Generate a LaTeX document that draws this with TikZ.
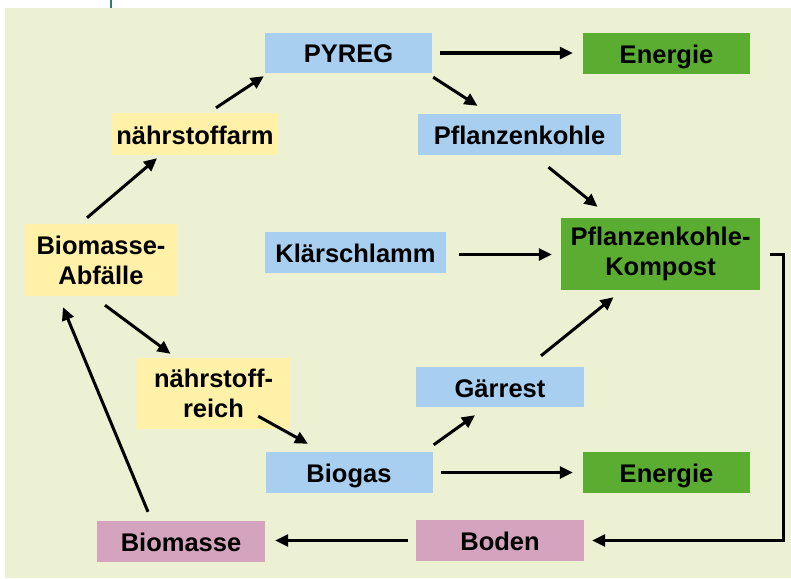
\documentclass[tikz,border=0pt]{standalone}
\usepackage{fontspec}
\setmainfont{Liberation Sans}
\usetikzlibrary{arrows.meta}
\definecolor{bgc}{HTML}{ECF1D3}
\definecolor{bluec}{HTML}{A9CFF0}
\definecolor{greenc}{HTML}{5BAD32}
\definecolor{yellowc}{HTML}{FFF1A8}
\definecolor{pinkc}{HTML}{D4A3BE}
\definecolor{tealc}{HTML}{2F7E6A}
\begin{document}
\begin{tikzpicture}[x=1pt,y=-1pt,
  box/.style={rectangle, inner sep=0pt, text=black, align=center,
    font=\bfseries\fontsize{25.5}{30}\selectfont},
  one/.style={text height=20pt, text depth=0pt},
  bluebox/.style={box, fill=bluec},
  greenbox/.style={box, fill=greenc},
  yellowbox/.style={box, fill=yellowc},
  pinkbox/.style={box, fill=pinkc},
  arr/.style={line width=3pt, -{Triangle[length=13pt,width=12pt]}}
]
\useasboundingbox (0,0) rectangle (791,578);
\fill[bgc] (5,8) rectangle (791,578);
\draw[tealc, line width=2pt] (111,0) -- (111,8);

% nodes (centers, sizes in px)
\node[bluebox, one, minimum width=167pt, minimum height=40pt] (pyreg) at (348.5,53) {PYREG};
\node[greenbox, one, minimum width=167pt, minimum height=41pt] (en1) at (666.5,53.5) {Energie};
\node[yellowbox, one, minimum width=166pt, minimum height=42pt] (arm) at (195,134) {nährstoffarm};
\node[bluebox, one, minimum width=203pt, minimum height=41pt] (pk) at (519.5,134.5) {Pflanzenkohle};
\node[yellowbox, minimum width=152pt, minimum height=72pt] (abf) at (101,260) {Biomasse-\\Abfälle};
\node[bluebox, one, minimum width=181pt, minimum height=41pt] (klar) at (355.5,252.5) {Klärschlamm};
\node[greenbox, minimum width=199pt, minimum height=72pt] (komp) at (660.5,254) {Pflanzenkohle-\\Kompost};
\node[bluebox, one, minimum width=168pt, minimum height=40pt] (gaer) at (500,387) {Gärrest};
\node[yellowbox, minimum width=153pt, minimum height=71pt] (reich) at (213.5,393.5) {nährstoff-\\reich};
\node[bluebox, one, minimum width=167pt, minimum height=41pt] (biogas) at (349,472.5) {Biogas};
\node[greenbox, one, minimum width=167pt, minimum height=41pt] (en2) at (666.5,472.5) {Energie};
\node[pinkbox, one, minimum width=168pt, minimum height=41pt] (boden) at (500,540.5) {Boden};
\node[pinkbox, one, minimum width=168pt, minimum height=41pt] (bm) at (181,541.5) {Biomasse};

% connectors
\draw[arr] ([xshift=-14pt,yshift=6pt]abf.north) -- ([xshift=-38pt,yshift=-3pt]arm.south);
\draw[arr] ([xshift=21pt,yshift=5pt]arm.north) -- ([xshift=-1pt,yshift=-3pt]pyreg.south west);
\draw[arr, shorten <=8pt, shorten >=10pt] (pyreg.east) -- (en1.west |- pyreg.east);
\draw[arr] ([xshift=1pt,yshift=-4pt]pyreg.south east) -- ([xshift=-42pt,yshift=8pt]pk.north);
\draw[arr] ([xshift=29pt,yshift=-12pt]pk.south) -- ([xshift=-63pt,yshift=11pt]komp.north);
\draw[arr, shorten <=13pt, shorten >=9pt] ([yshift=-2pt]klar.east) -- ([yshift=-2pt]klar.east -| komp.west);
\draw[arr] ([xshift=41pt,yshift=11pt]gaer.north) -- ([xshift=-47pt,yshift=-7pt]komp.south);
\draw[arr] ([xshift=4pt,yshift=-9pt]abf.south) -- ([xshift=-43pt,yshift=4pt]reich.north);
\draw[arr] ([xshift=-32pt,yshift=13pt]reich.south east) -- ([xshift=-41pt,yshift=8pt]biogas.north);
\draw[arr] ([xshift=1pt,yshift=7pt]biogas.north east) -- ([xshift=-25pt,yshift=-8pt]gaer.south);
\draw[arr, shorten <=8pt, shorten >=10pt] (biogas.east) -- (en2.west |- biogas.east);
\draw[arr, shorten >=8pt] ([xshift=10pt]komp.east) -- ++(13,0) |- (boden.east);
\draw[arr, shorten <=8pt, shorten >=10pt] (boden.west) -- (bm.east |- boden.west);
\draw[arr] ([xshift=-33pt,yshift=9pt]bm.north) -- ([xshift=-38pt,yshift=-11pt]abf.south);
\end{tikzpicture}
\end{document}
